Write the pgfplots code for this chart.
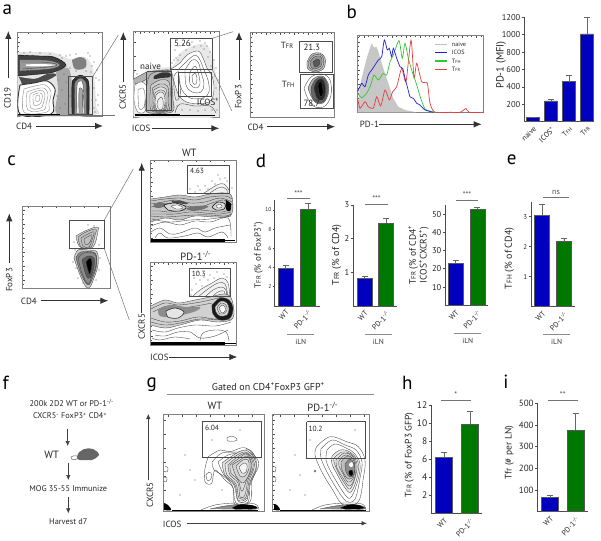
\documentclass[border=0pt]{standalone}
\usepackage{fontspec}
\setmainfont{PT Sans}
\usepackage{graphicx}
\usepackage{pgfplots}
\pgfplotsset{compat=1.18}
\usetikzlibrary{arrows.meta}
\definecolor{BarBlue}{RGB}{0,0,190}
\definecolor{BarGreen}{RGB}{0,120,0}
\definecolor{HRed}{RGB}{235,60,60}
\definecolor{HBlue}{RGB}{30,30,215}
\definecolor{HGreen}{RGB}{50,200,50}
\newcommand\fs[1]{\fontsize{#1}{#1}\selectfont}
\newcommand\Ts[1]{T\scalebox{.72}{#1}}
\newcommand\up[1]{\textsuperscript{#1}}
\newcommand\ct[2][]{\addplot[ct,#1] coordinates {#2};}
\newcommand\spk[1]{\addplot[only marks,mark=*,mark size=.32pt,black!55] coordinates {#1};}
\newcommand\gate[4]{\addplot[gate] coordinates {(#1,#2)(#3,#2)(#3,#4)(#1,#4)(#1,#2)};}
\newcommand\solid[3]{\addplot[black,line width=#1,no marks] coordinates {(#2)(#3)};}
\newcommand\arr[4]{\draw[-{Latex[length=8pt,width=6.5pt]},line width=.9pt,black!80] (#1,#2)--(#3,#4);}
\newcommand\thinarr[4]{\draw[-{Latex[length=5pt,width=4.5pt]},line width=.5pt,black!75] (#1,#2)--(#3,#4);}
\newcommand\T[4][9]{\node[inner sep=0pt,black!85,font=\fs{#1}] at (#2,#3) {#4};}
\newcommand\TL[4][9]{\node[inner sep=0pt,anchor=west,black!85,font=\fs{#1}] at (#2,#3) {#4};}
\newcommand\TR[5][9]{\node[inner sep=0pt,rotate=90,black!85,font=\fs{#1},align=center] at (#2,#3) {#4};}
\newcommand\lab[3]{\node[inner sep=0pt,font=\fs{19},black] at (#1,#2) {#3};}
\newcommand\sig[4]{\draw[black!55,line width=.7pt] (#1,#3)--(#2,#3); \node[inner sep=0pt,font=\fs{8},black!70] at ({(#1+#2)/2},#3-5) {#4};}
\newcommand\iln[4]{\draw[black!45,line width=.7pt] (#1,#3)--(#2,#3); \node[inner sep=0pt,font=\fs{7.5},black!80] at ({(#1+#2)/2},#4) {iLN};}
\pgfplotsset{
  ct/.style={no marks,smooth,tension=.6,line width=.35pt,draw=black!75},
  gate/.style={no marks,line width=.65pt,draw=black!70},
  flow/.style n args={4}{x=1pt,y=1pt,y dir=reverse,xmin=#1,ymin=#2,xmax=#3,ymax=#4,
    at={({(#1+#3)/2*1pt},{-(#2+#4)/2*1pt})},anchor=center,
    axis line style={draw=black!50,line width=.6pt},
    xtick pos=upper,ytick pos=left,xtick distance=14,ytick distance=14,
    minor x tick num=2,minor y tick num=2,
    major tick length=2.2pt,minor tick length=1.1pt,
    tick style={black!70,line width=.35pt},
    xticklabels={},yticklabels={}},
  barax/.style={anchor=south west,clip=false,axis lines=left,
    axis line style={-,black!70,line width=.9pt},
    ymin=0,xtick={0,1},xticklabels={WT,PD-1\up{-/-}},
    xtick style={draw=none},
    ytick style={black!70,line width=.7pt},
    tick align=outside,major tick length=2.5pt,
    /pgf/number format/assume math mode=true,
    /pgf/number format/1000 sep={},
    yticklabel style={font=\fs{8.5},black!85,inner sep=1pt},
    xticklabel style={font=\fs{7.5},black!85,rotate=45,anchor=north east,inner sep=1pt}},
  br/.style={ybar,bar shift=0pt,fill=#1,draw=black!65,line width=.6pt,
    error bars/y dir=plus,error bars/y explicit,
    error bars/error bar style={black!60,line width=.9pt},
    error bars/error mark options={rotate=90,black!60,mark size=3pt,line width=.9pt}}
}
\begin{document}
\begin{tikzpicture}[x=1pt,y=-1pt]
\useasboundingbox (0,0) rectangle (601,540);

% ---- a, CD19 vs CD4
\begin{axis}[flow={17.5}{32}{102}{116}]
\ct[fill=black!10,draw=none]{(18,52)(40,52)(55,53)(70,59)(85,57)(93,70)(96,105)(93,115)(18,115)(18,52)}
\ct[fill=black!35,draw=none]{(56,72)(68,68)(72,85)(72,113)(56,113)(58,90)(56,72)}
\ct[fill=black!75,draw=black]{(18,55)(40,56)(54,57)(66,65)(54,72)(40,74)(18,76)}
\ct[fill=black!40]{(20,60)(40,60)(52,61)(60,65)(50,69)(20,71)}
\ct{(22,62)(40,62)(52,63)(57,65)(48,67)(22,69)}
\ct[fill=white,draw=none]{(26,64.5)(40,64)(56,65)(40,66.5)(26,66)}
\ct[fill=black!70]{(19,77)(35,79)(48,74)(56,75)(42,82)(22,84)}
\ct[fill=black!50,draw=none]{(72,60)(80,57)(86,60)(85,68)(75,69)(72,60)}
\ct[fill=white,line width=.9pt,draw=black!80]{(20,85)(34,83)(47,81)(55,89)(53,100)(51,114)(20,114)(20,85)}
\ct[draw=black!50]{(24,89)(35,86)(45,85)(51,92)(49,103)(47,112)(24,112)(24,89)}
\ct[draw=black!50]{(27,92)(36,89)(44,88)(48,94)(46,104)(44,110)(28,110)(27,92)}
\ct[draw=black!50]{(30,94)(37,91)(43,91)(45,96)(43,104)(41,108)(31,108)(30,94)}
\ct[draw=black!50]{(33,95)(38,93)(42,94)(42,99)(40,104)(34,105)(33,95)}
\ct[draw=black!50]{(36,96)(39,95)(40,97)(39,101)(36,101)(36,96)}
\ct[fill=black!80,draw=black]{(72,114)(72,85)(74,79)(80,75)(86,78)(89,85)(89,114)}
\ct[fill=black!45]{(74.5,114)(74.5,86)(77,80)(80.5,78)(84,80)(86.5,86)(86.5,114)}
\ct[fill=white]{(77,113)(77,86)(80,81)(83,85)(84,113)}
\ct[fill=black!35]{(79,113)(79,91)(81,88)(82.5,92)(82.5,113)}
\solid{1.8pt}{18,115}{60,115}
\solid{1.8pt}{72,115}{90,115}
\gate{68.3}{76.7}{92.7}{114.3}
\spk{(62,58)(66,56)(90,56)(94,62)(97,70)(96,78)(94,88)(98,95)(96,100)(70,55)(60,55)(76,54)(88,53)(60,70)(64,74)(58,80)(66,82)(62,90)(70,96)(57,96)(65,104)(60,108)(68,110)(91,72)(93,78)(92,100)(94,108)(58,63)(66,66)(70,68)(76,71)(86,71)(92,66)(30,52)(40,53)(50,54)(24,53)(99,80)(98,105)(95,112)}
\end{axis}

% ---- a, CXCR5 vs ICOS
\begin{axis}[flow={133.3}{31.7}{219.3}{117}]
\ct[fill=black!9,draw=none]{(133.5,80)(145,72)(150,68)(172,66)(178,55)(190,47)(205,44)(212,55)(216,75)(219,90)(219,116)(133.5,116)(133.5,80)}
\ct[fill=black!30]{(133.5,79)(147,72)(153,71)(170,70)(172,75)(150,78)(140,83)(134,84)}
\ct[draw=black!60,fill=white]{(135,85)(142,82)(148,90)(146,110)(138,112)(134,100)(135,85)}
\ct[draw=black!60]{(138,90)(143,88)(145,95)(144,107)(139,108)(138,90)}
\ct[fill=black!28]{(147,84)(150,75)(160,71)(171,72)(172,85)(173,100)(172,112)(147,112)(146,98)(147,84)}
\ct[fill=black!80,draw=none]{(154,76)(162,72.5)(170,73)(170,77)(161,78)(154,79)(154,76)}
\ct[fill=black!20]{(151,85)(160,80)(169,82)(170,98)(168,111)(152,111)(150,98)(151,85)}
\ct{(152.5,88)(160,84)(167.5,86)(168.5,99)(166.5,110.5)(153.5,110.5)(152,99)(152.5,88)}
\ct[fill=black!12]{(154,90)(160,87)(166,89)(167,100)(165,110)(155,110)(153,100)(154,90)}
\ct{(155,93)(160,90)(165,92)(166,101)(164,110)(156,110)(154,102)(155,93)}
\ct[fill=black!7]{(156,95)(160,92)(164,94)(165,103)(163,110)(157,110)(155,103)(156,95)}
\ct{(158,100)(161,97)(163,100)(163,107)(161,110)(158,108)(157,104)(158,100)}
\ct[fill=white]{(171,69)(180,63)(187,55)(198,51)(203,58)(207,68)(212,76)(214,90)(209,102)(190,103)(180,97)(175,85)(171,69)}
\ct{(178,70)(186,62)(195,55)(200,60)(204,70)(208,80)(209,92)(203,98)(190,98)(182,90)(179,80)(178,70)}
\ct{(185,70)(192,60)(198,62)(201,72)(204,84)(201,92)(192,92)(186,85)(185,70)}
\ct{(190,72)(195,66)(198,72)(200,84)(196,88)(190,84)(190,72)}
\ct{(192,76)(195,73)(197,78)(196,84)(193,83)(192,76)}
\ct{(175,113)(180,104)(195,106)(210,106)(216,113)}
\ct{(174,76)(178,72)(180,84)(180,96)(176,100)(174,88)(174,76)}
\solid{2pt}{135,115.3}{180,115.3}
\solid{.8pt}{180,115.3}{215,115.3}
\gate{170.7}{38.3}{212.3}{69.3}
\gate{146.7}{71.7}{171.7}{110.7}
\gate{178.7}{72.3}{211.7}{96.3}
\spk{(175,50)(178,46)(183,44)(192,42)(200,41)(207,46)(210,52)(214,60)(216,68)(218,80)(217,100)(176,58)(137,74)(134,72)(142,68)(174,60)(180,55)(186,50)(194,47)(204,49)(208,57)(211,66)(215,76)(216,88)(214,104)(212,110)(205,110)(198,111)(190,110)(182,110)(177,106)(150,114)(140,114)(217,110)(172,63)(178,60)(190,45)(201,46)(205,43)}
\end{axis}

% ---- a, FoxP3 vs CD4
\begin{axis}[flow={250.7}{32.7}{334.3}{117.3}]
\ct[fill=black!25]{(307,62)(312,54)(320,53)(325,58)(324,68)(316,72)(308,69)(307,62)}
\ct{(308.5,62)(313,55.5)(320,54.5)(323.5,59)(322.5,67)(316,70.5)(309.5,68)(308.5,62)}
\ct[fill=black!42]{(310,62)(314,57)(320,56)(322,60)(321,66)(315,69)(311,67)(310,62)}
\ct[fill=black!65]{(313,62)(317,59)(320,61)(319,65)(315,67)(313,62)}
\ct[fill=white]{(304,88)(311,77)(322,74)(330,80)(331,95)(325,106)(315,107)(308,99)(304,88)}
\ct[fill=black!30]{(308,88)(313,79)(322,76)(328,83)(328,95)(323,103)(316,103)(311,96)(308,88)}
\ct[fill=black!60]{(311,88)(315,80)(322,77)(327,83)(327,95)(323,102)(316,102)(312,96)(311,88)}
\ct[fill=black!85]{(314,88)(317,81)(322,79)(325,85)(325,95)(322,100)(317,98)(314,88)}
\ct[fill=black]{(318,86)(320,81)(322,84)(323,93)(321,97)(319,93)(318,86)}
\gate{299.3}{41.7}{332.7}{72.3}
\gate{300}{74}{333.3}{108.3}
\end{axis}

% ---- b, histogram
\begin{axis}[flow={357.7}{35.5}{483.3}{112.5}]
\addplot[fill=black!22,draw=none,no marks] coordinates {(357.7,112.3)(360,85)(363.3,71.7)(366.7,58.3)(369.3,50)(371.7,43.3)(374,47.7)(376.7,46.7)(379.3,55)(383.3,68.3)(386.7,78.3)(390,88.3)(393.3,98.3)(398.3,106.7)(405,110)(416.7,112.3)};
\addplot[HRed,smooth,tension=.4,no marks,line width=.7pt] coordinates {(357.7,98.3)(360,108.3)(365,101.7)(368.3,106.7)(373.3,108.3)(376.7,96.7)(380.7,106)(385,90)(389.3,100)(392.7,91.7)(396.7,86.7)(401.7,68.3)(406,81.7)(411,40)(414,78.3)(416.7,63.3)(421.7,81.7)(427.3,83.3)(430,103.3)(435,112.3)(450,112.3)(460,112.3)(466,108.5)(469,112.3)(483,112.3)};
\addplot[HGreen,smooth,tension=.4,no marks,line width=.7pt] coordinates {(357.7,93.3)(361.7,97.7)(366.7,93.3)(370.7,85)(374,75)(378.3,80)(383.3,73.3)(386.7,75)(390,61.7)(393.3,55)(399,40.7)(402.3,58.3)(405,43.3)(408.3,58.3)(411.7,70)(416.7,85)(420.7,98.3)(425,109)(430,111)(435,112.3)};
\addplot[HBlue,smooth,tension=.4,no marks,line width=.7pt] coordinates {(357.7,91.7)(361.7,83.3)(365,86.7)(368.3,75)(371.7,70)(375,65)(378.3,60)(381.7,56.7)(384.3,40)(387.3,50)(389.3,48.3)(391.7,56.7)(393.3,48.3)(396.7,58.3)(400,66.7)(402.7,68.3)(405,78.3)(407.3,86.7)(410,96.7)(413.3,98.3)(416.7,103.3)(420,105)(425,110)(433.3,112.3)};
\end{axis}

% ---- b, MFI bars
\begin{axis}[barax,at={(524pt,-121.7pt)},x=18pt,y=0.087pt,xmin=-.5,xmax=3.33,ymax=1200,
  ytick={200,400,...,1200},xtick={0,1,2,3},xticklabels={naive,ICOS\up{+},\Ts{FH},\Ts{FR}},bar width=12.5pt]
\addplot[br=BarBlue] coordinates {(0,45) +- (0,4) (1,240) +- (0,15) (2,465) +- (0,70) (3,1010) +- (0,190)};
\end{axis}

% ---- c, gate
\begin{axis}[flow={22.7}{206}{110.7}{288.3}]
\ct[fill=black!15]{(76,236)(85,231)(96.7,227)(98,231)(93,247)(80,247)(76,236)}
\ct[fill=black!25]{(78,237)(86,232)(96,229)(95,235)(91,247)(81,247)(78,237)}
\ct{(81,238)(88,234)(94,232)(92,240)(89,247)(83,246)(81,238)}
\ct{(84,239)(89,236)(92,235)(90,242)(87,245)(85,244)(84,239)}
\ct[fill=black!20]{(74,258)(78,250)(88,250)(97,252)(98,265)(94,278)(90,287)(86,287)(80,275)(74,258)}
\ct[fill=black!45]{(76,258)(81,252)(95,253)(96.5,265)(93,277)(88,285)(81,274)(76,258)}
\ct{(78,258)(84,253)(95,254)(96,265)(92,276)(88,284)(82,273)(78,258)}
\ct[fill=black!65]{(82,260)(88,256)(94,258)(94,267)(90,278)(86,275)(82,260)}
\ct[fill=black]{(86,262)(90,258)(92,263)(90,274)(88,270)(86,262)}
\gate{69.3}{220}{104.3}{248.7}
\spk{(74,242)(75,250)(73,262)(76,268)(78,278)(83,283)(99,245)(100,258)(99,270)(96,280)(88,225)(94,226)}
\end{axis}

% ---- c, WT
\begin{axis}[flow={150.7}{160}{236}{242.3}]
\ct[fill=black!5]{(204,193)(212,188)(218,184.5)(224,184)(229,190)(229,193)}
\ct{(210,193)(216,189)(222,187)(227,190)(227,193)}
\ct[fill=black!22]{(151,199)(165,197)(180,195)(195,197)(210,194)(225,193)(232,197)(231,215)(215,217)(195,216)(180,220)(165,218)(151,222)}
\ct{(151,201)(165,199)(180,198)(195,200)(210,197)(225,196)(232,199)}
\ct{(151,204)(163,202)(176,200)(190,203)(205,202)(220,198)(232,202)}
\ct{(151,207)(160,205)(172,203)(186,206)(200,207)(212,203)(224,200)(232,205)}
\ct{(151,211)(160,211)(170,212)(185,210)(200,210)(210,211)(222,212)(231,209)}
\ct{(151,214)(162,214)(175,214)(190,212)(205,213)(220,214)(231,212)}
\ct{(151,216)(165,217)(180,216)(195,215)(210,215)(225,216)(231,214)}
\ct[fill=black!55,draw=none]{(154,204)(162,202.5)(166,205)(160,208)(154,207)(154,204)}
\ct[fill=black!70,draw=none]{(172,200.5)(182,201)(188,204)(180,203.5)(172,202.5)(172,200.5)}
\ct[fill=black!55,draw=none]{(186,208)(196,206)(208,206)(204,209)(192,211)(186,208)}
\ct[fill=black!15,line width=.6pt,draw=black!90]{(164,205)(175,203)(186,207)(180,211)(168,210)(164,205)}
\ct[fill=white]{(171,206)(178,205)(183,208)(176,209)(171,206)}
\ct[fill=black!15,line width=.6pt,draw=black!90]{(212,207)(218,202)(225,204)(224,209)(216,210)(212,207)}
\ct[fill=white]{(216,206)(220,204)(222,207)(218,208)(216,206)}
\ct[fill=black,draw=none]{(226,200)(231,204)(230,211)(226,209)(226,200)}
\ct{(151,226)(165,222)(180,225)(195,221)(210,222)(228,218)(231,236)}
\ct{(151,232)(160,228)(170,234)(180,233)(195,228)(205,232)(215,228)(230,225)}
\ct{(155,238)(160,233)(168,238)(185,236)(198,233)(208,237)(222,232)(228,238)}
\ct{(152,219)(170,222)(190,220)(210,219)(231,216)}
\solid{2.6pt}{151,240.5}{225,240.5}
\solid{.8pt}{225,240.5}{235,240.5}
\gate{187.7}{165}{229.3}{193.3}
\spk{(205,186)(200,190)(212,181)(220,179)(225,178)(195,192)(215,184)(208,189)(190,189)(198,186)(227,181)(218,175)(232,188)}
\end{axis}

% ---- c, PD-1
\begin{axis}[flow={150.7}{262.7}{236.7}{345.7}]
\ct[fill=black!5]{(192,297)(200,290)(212,283)(222,278)(228,283)(230,297)}
\ct{(198,297)(208,289)(218,283)(225,284)(228,297)}
\ct{(205,297)(213,290)(221,287)(226,290)(226,297)}
\ct{(212,297)(218,292)(224,291)(225,297)}
\ct[fill=black!18]{(151,306)(165,300)(178,303)(195,300)(210,297)(225,294)(232,300)(233,318)(218,322)(200,320)(180,325)(165,328)(151,325)}
\ct{(151,309)(165,303)(178,305)(195,303)(210,300)(226,296)}
\ct{(153,312)(167,306)(180,308)(196,306)(212,303)}
\ct{(151,318)(165,322)(180,321)(198,317)(214,319)(232,320)}
\ct{(151,322)(165,325)(180,323)(200,319)(218,320)}
\ct[fill=black!45,draw=none]{(158,310)(170,305)(186,307)(200,307)(196,311)(186,314)(172,317)(160,316)(158,310)}
\ct[fill=black!10,line width=.55pt,draw=black!85]{(166,311)(175,308)(184,312)(178,318)(168,317)(166,311)}
\ct[fill=black!90]{(212,305)(220,298)(229,300)(233,308)(230,318)(220,320)(213,314)(212,305)}
\ct[fill=black!15]{(215,307)(221,301)(227,303)(229,309)(227,315)(220,316)(216,312)(215,307)}
\ct{(217,308)(221,303)(226,305)(227,310)(225,313)(220,314)(217,308)}
\ct[fill=white]{(219,308)(222,305)(225,307)(225,311)(222,313)(219,308)}
\ct{(152,330)(165,332)(178,328)(195,325)(215,326)(231,322)}
\ct{(155,335)(165,336)(178,332)(190,332)(200,338)(215,336)(228,330)}
\ct{(200,341)(203,333)(215,330)(226,332)(229,341)}
\ct{(152,338)(160,340)(175,337)(190,339)}
\solid{2.6pt}{151,343.5}{225,343.5}
\solid{.8pt}{225,343.5}{236,343.5}
\gate{189.3}{268.3}{230.7}{296.7}
\spk{(192,290)(196,284)(200,280)(204,277)(210,275)(217,272)(224,274)(194,278)(202,286)(208,280)(214,278)(227,277)(191,295)(198,272)}
\end{axis}

% ---- d, e bars
\begin{axis}[barax,at={(274pt,-306pt)},x=22.3pt,y=9.6pt,xmin=-.525,xmax=1.54,ymax=11,ytick={2,4,...,10},bar width=15pt,yticklabel style={font=\fs{5.5}},major tick length=1.5pt]
\addplot[br=BarBlue] coordinates {(0,3.9) +- (0,.37)};
\addplot[br=BarGreen] coordinates {(1,10.07) +- (0,.65)};
\end{axis}
\begin{axis}[barax,at={(353pt,-306pt)},x=21.3pt,y=33.7pt,xmin=-.55,xmax=1.5,ymax=3,ytick={1,2,3},bar width=14.7pt]
\addplot[br=BarBlue] coordinates {(0,.83) +- (0,.05)};
\addplot[br=BarGreen] coordinates {(1,2.45) +- (0,.15)};
\end{axis}
\begin{axis}[barax,at={(445pt,-305.3pt)},x=21.8pt,y=1.825pt,xmin=-.49,xmax=1.5,ymax=55,ytick={10,20,...,50},bar width=15pt]
\addplot[br=BarBlue] coordinates {(0,23) +- (0,1.5)};
\addplot[br=BarGreen] coordinates {(1,52.8) +- (0,.7)};
\end{axis}
\begin{axis}[barax,at={(531pt,-306.7pt)},x=21.7pt,y=30pt,xmin=-.52,xmax=1.5,ymax=3.5,ytick={1,2,3},bar width=15pt,yticklabel style={font=\fs{7}}]
\addplot[br=BarBlue] coordinates {(0,3.05) +- (0,.37)};
\addplot[br=BarGreen] coordinates {(1,2.17) +- (0,.11)};
\end{axis}

% ---- g, WT
\begin{axis}[flow={163.3}{414.3}{264.3}{511.7}]
\ct{(208.3,456.7)(220,450)(230,451.7)(245,447.7)(256.7,458.3)(258.3,466.7)(251.7,481.7)(250,501.7)(235,505)(233.3,488.3)(225,480)(215,470)(211.7,483.3)(205,481.7)(205,468.3)(208.3,456.7)}
\ct{(212,462)(222,453)(238,452)(250,450)(256,460)(256,470)(250,485)(248,502)(236,503)(232,485)(222,475)(214,470)(212,462)}
\ct{(218,462)(228,455)(240,453)(251,453)(255,462)(254,472)(249,485)(247,500)(238,501)(234,485)(224,475)(218,462)}
\ct[fill=black!10]{(222,463)(232,456)(245,450)(254,458)(256,468)(250,482)(247,498)(238,500)(235,485)(225,475)(222,463)}
\ct{(225,464)(234,457)(245,452)(253,459)(254,468)(249,481)(246,497)(239,498)(236,484)(227,475)(225,464)}
\ct[fill=black!14]{(228,465)(236,458)(246,453)(252,460)(253,468)(248,480)(245,495)(240,497)(238,483)(230,475)(228,465)}
\ct{(230,465)(238,459)(246,454)(251,461)(251,470)(247,479)(243,490)(241,490)(238,480)(231,473)(230,465)}
\ct[fill=black!18]{(232,465)(240,460)(247,456)(251,463)(250,472)(246,480)(242,483)(236,476)(232,465)}
\ct[fill=black!12]{(236,466)(243,460)(248,460)(249,468)(245,476)(240,476)(236,466)}
\ct[fill=black!4]{(239,467)(244,463)(247,465)(246,472)(242,473)(239,467)}
\ct{(227,438)(232,436)(237,439)(235,441)(228,441)(227,438)}
\ct{(206,475)(209,472)(212,475)(210,480)(207,480)(206,475)}
\ct{(165,466)(168,468)(167,472)(164,471)}
\ct{(164,477)(167,478)(166,482)(164,481)}
\ct{(201,510)(215,505)(235,503)(255,504)(259,510)}
\ct[fill=black!45]{(210,509)(225,506)(240,504.5)(254,506)(256,509)(235,509.5)}
\ct[fill=black,draw=none]{(232,508)(240,504.5)(253,505.5)(256,508.5)(235,509)}
\ct[fill=black,draw=none]{(164,503)(168,505)(171,510)(164,510)}
\solid{.8pt}{172,510}{258,510}
\gate{202.3}{421.7}{261}{457.7}
\spk{(190,470)(180,495)(195,480)(212,440)(222,490)(185,455)(240,430)}
\end{axis}

% ---- g, PD-1
\begin{axis}[flow={272.7}{414.3}{369.3}{511.7}]
\ct{(316.7,446.7)(330,436.7)(346.7,441.7)(358.3,446.7)(365,460)(363.3,478.3)(358.3,501.7)(343.3,505)(331.7,488.3)(321.7,471.7)(315,455)(316.7,446.7)}
\ct{(321,449)(332,440)(345,445)(356,450)(362,462)(360,478)(355,499)(346,501)(335,486)(326,470)(321,458)(321,449)}
\ct{(327,450)(335,444)(346,448)(354,453)(360,464)(358,480)(352,496)(347,497)(338,484)(330,470)(326,460)(327,450)}
\ct[fill=black!8]{(332,456)(340,450)(350,452)(358,462)(357,478)(351,492)(345,488)(337,474)(332,464)(332,456)}
\ct{(334,458)(342,452)(351,454)(357,464)(355,478)(350,489)(345,484)(338,472)(334,462)(334,458)}
\ct[fill=black!14]{(336,460)(344,453)(352,456)(356,466)(354,480)(349,486)(343,478)(337,468)(336,460)}
\ct{(339,461)(345,455)(352,458)(355,467)(353,479)(348,482)(343,474)(339,466)(339,461)}
\ct[fill=black!25]{(341,462)(347,456)(353,459)(355,468)(352,478)(347,478)(342,470)(341,462)}
\ct[fill=black!45]{(345,464)(350,459)(354,464)(354,474)(350,477)(346,472)(345,464)}
\ct[fill=white,draw=none]{(349,464)(352,462)(353,466)(350,467)(349,464)}
\ct[fill=black]{(349,471)(352,470)(353,474)(351,476)(349,474)(349,471)}
\ct{(315,470)(316,471)(315,472)(314,471)(315,470)}
\ct{(273,466)(276,468)(275,472)(273,471)}
\ct{(273,477)(276,478)(275,482)(273,481)}
\ct{(312,510)(325,505)(345,503)(362,504)(366,510)}
\ct[fill=black!45]{(320,509)(335,506)(350,504.5)(362,506)(364,509)(345,509.5)}
\ct[fill=black,draw=none]{(340,508)(350,504.5)(360,505.5)(363,508.5)(345,509)}
\ct[fill=black,draw=none]{(274,504)(277,505)(280,510)(274,510)}
\solid{.8pt}{280,510}{366,510}
\gate{306.7}{421.7}{365}{458.3}
\spk{(300,475)(290,490)(310,440)(355,430)(305,495)(295,455)}
\end{axis}

% ---- h, i bars
\begin{axis}[barax,at={(431pt,-513.4pt)},x=26pt,y=9.03pt,xmin=-.5,xmax=1.47,ymax=12,ytick={2,4,...,12},bar width=17pt,yticklabel style={font=\fs{9.5}},xticklabels={WT,PD-1\up{-/-}}]
\addplot[br=BarBlue] coordinates {(0,6.2) +- (0,.55)};
\addplot[br=BarGreen] coordinates {(1,9.9) +- (0,1.4)};
\end{axis}
\begin{axis}[barax,at={(537.3pt,-511.7pt)},x=25.5pt,y=.2167pt,xmin=-.5,xmax=1.5,ymax=500,ytick={100,200,...,500},bar width=17pt,yticklabel style={font=\fs{9}}]
\addplot[br=BarBlue] coordinates {(0,65) +- (0,10)};
\addplot[br=BarGreen] coordinates {(1,375) +- (0,77)};
\end{axis}

% ---- connecting lines
\draw[black!55,line width=.5pt] (92.7,76.7)--(118.3,35);
\draw[black!55,line width=.5pt] (18,115.5)--(115,115.5);
\draw[black!55,line width=.5pt] (212.3,38.3)--(233,31.7);
\draw[black!55,line width=.5pt] (212.3,69.3)--(231.7,110.7);
\draw[black!55,line width=.5pt] (104.3,220)--(133.3,169);
\draw[black!55,line width=.5pt] (104.3,248.7)--(129.3,320);

% ---- flow axis arrows and names
\arr{8.3}{78}{8.3}{31} \TR{7.5}{98}{CD19}{}
\arr{36}{126}{103}{126} \TL{16}{126.7}{CD4}
\arr{123.3}{81.7}{123.3}{32} \TR{122.7}{97}{CXCR5}{}
\arr{151.7}{128.3}{219.3}{128.3} \TL{131.7}{128.3}{ICOS}
\arr{239}{80}{239}{32} \TR{238.3}{97}{FoxP3}{}
\arr{267.3}{126.7}{335}{126.7} \TL{247.3}{127.3}{CD4}
\TL{174}{43}{5.26} \TL{140}{66}{naive} \TL{196.7}{101.7}{ICOS\up{+}}
\TL{303.3}{47.7}{21.3} \TL{303.3}{103.3}{78.7} \TL{280.7}{45}{\Ts{FR}} \TL{281.7}{84.3}{\Ts{FH}}
\arr{379.3}{124.3}{481.7}{124.3} \TL{359.7}{124.3}{PD-1}
\draw[black!25,line width=1.5pt] (435,44.7)--(447.3,44.7);
\draw[HBlue,line width=1.5pt] (435,52.7)--(447.3,52.7);
\draw[HGreen,line width=1.5pt] (435,61)--(447.3,61);
\draw[HRed,line width=1.5pt] (435,69.7)--(447.3,69.7);
\TL[6.2]{451.7}{44.7}{naive} \TL[6.2]{451.7}{52.7}{ICOS} \TL[6.2]{451.7}{61}{\Ts{FH}} \TL[6.2]{451.7}{69.7}{\Ts{FR}}
\TR[10.5]{501}{65}{PD-1 (MFI)}{}

\arr{9.3}{263.3}{9.3}{213.3} \TR{9.3}{280}{FoxP3}{}
\arr{40.7}{300.7}{108.3}{300.7} \TL{20.7}{301}{CD4}
\T[10.5]{189.3}{152.7}{WT} \T[10.5]{195.7}{256}{PD-1\up{-/-}}
\TL[7.5]{190}{170.7}{4.63} \TL[7.5]{191.7}{274}{10.3}
\arr{141.7}{313.3}{141.7}{162.7} \TR{141.7}{326.7}{CXCR5}{}
\arr{169.3}{357}{237.3}{357} \TL{150}{357.3}{ICOS}

% ---- bar y labels and brackets
\TR[9]{258.3}{255}{\Ts{FR} (\% of FoxP3\up{+})}{}
\TR[10]{336.7}{255}{\Ts{FR} (\% of CD4)}{}
\TR[9.5]{418.5}{255}{\Ts{FR} (\% of CD4\up{+}\\ICOS\up{+}CXCR5\up{+})}{}
\TR[10]{509.3}{258.3}{\Ts{FH} (\% of CD4)}{}
\TR[9.5]{409.3}{455}{\Ts{FR}  (\% of FoxP3 GFP)}{}
\TR[9.5]{509.3}{452.7}{Tfr (\# per LN)}{}
\sig{287}{310}{198.7}{***}
\sig{365}{388}{204}{***}
\sig{456}{478}{200}{***}
\sig{543}{569}{197}{ns}
\sig{441}{470.7}{400}{*}
\sig{548}{577.5}{400}{**}
\iln{287.3}{314.3}{334.7}{342.3}
\iln{365}{391.7}{334.7}{342.3}
\iln{454.3}{481.3}{333}{340.7}
\iln{543.3}{570}{334.7}{342.3}

% ---- f, scheme
\T[8.3]{71.7}{402.7}{200k 2D2 WT or PD-1\up{-/-}}
\T[8.3]{70}{416}{CXCR5\up{-} FoxP3\up{+} CD4\up{+}}
\thinarr{67.7}{429.3}{67.7}{446}
\T[10.5]{51.7}{455}{WT}
\fill[black!60] (77,457) .. controls (78,449) and (88,447) .. (93,449) .. controls (96,450) and (99,453) .. (99,455) .. controls (97,458) and (94,459) .. (92,460) -- (80,460) .. controls (78,460) and (77,459) .. (77,457) -- cycle;
\draw[black!60,line width=.5pt] (78,458) .. controls (75,461) and (71,460) .. (71,457) .. controls (72,455) and (75,456) .. (77,456);
\thinarr{68.3}{462.7}{68.3}{480}
\T[8.3]{68.3}{489}{MOG 35-55 Immunize}
\thinarr{68.3}{496.7}{68.3}{513.3}
\T[8.3]{68.3}{521.7}{Harvest d7}

% ---- g labels
\T[10]{268.3}{386.7}{Gated on CD4\up{+}FoxP3 GFP\up{+}}
\draw[black!45,line width=.6pt] (167.3,394.3)--(374,394.3);
\T[10.5]{215}{406}{WT} \T[10.5]{322.7}{406.7}{PD-1\up{-/-}}
\TL[7.5]{205}{427.7}{6.04} \TL[7.5]{308.3}{429.3}{10.2}
\thinarr{148.3}{480}{148.3}{414} \TR{150}{495}{CXCR5}{}
\thinarr{186.7}{523.3}{366.7}{523.3} \TL{162.7}{524}{ICOS}

% ---- panel letters
\lab{7.3}{10}{a} \lab{351.7}{12}{b} \lab{11.7}{161}{c} \lab{261}{161}{d}
\lab{511.7}{160}{e} \lab{5.7}{383}{f} \lab{151.7}{385}{g} \lab{407.3}{383}{h} \lab{506}{382}{i}
\end{tikzpicture}
\end{document}
